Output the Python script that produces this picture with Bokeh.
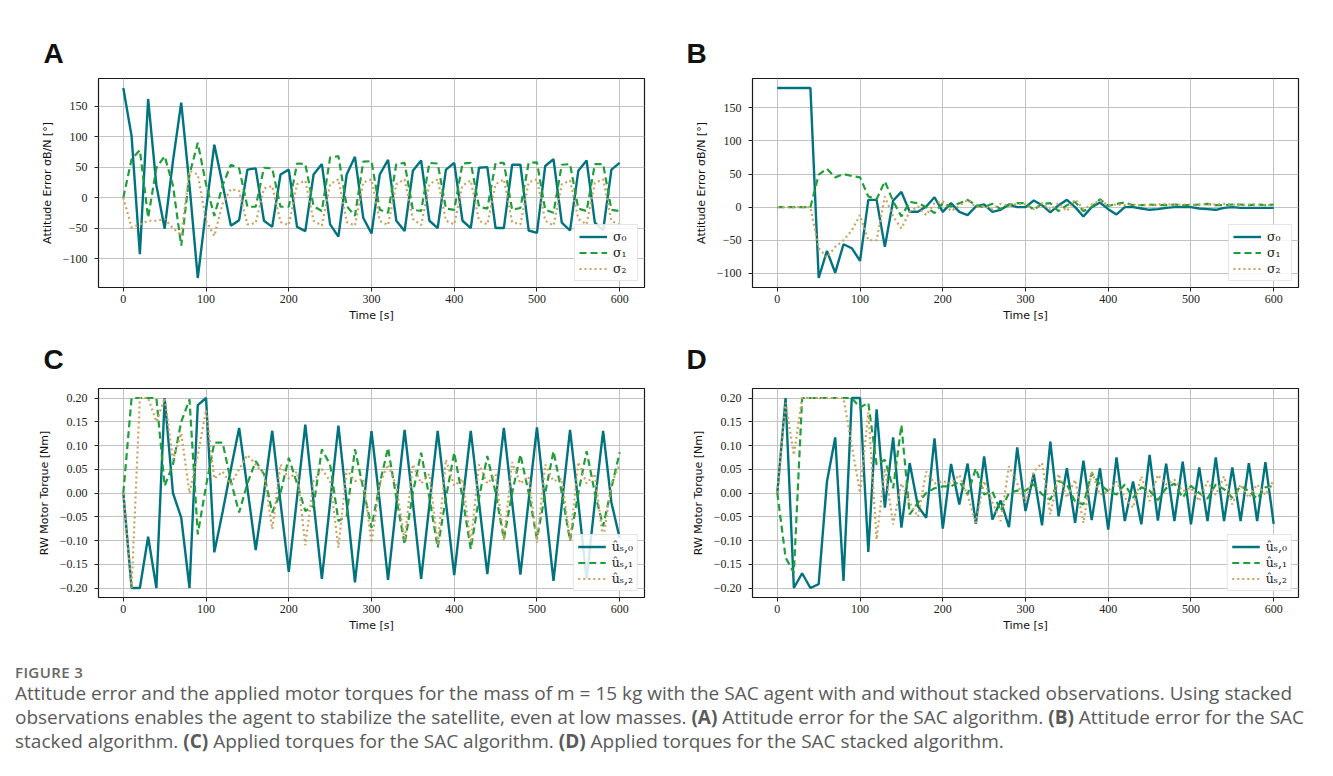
from bokeh.plotting import figure
from bokeh.models import Range1d, FixedTicker, CustomJSTickFormatter, ColumnDataSource, Div
from bokeh.layouts import column, row
from bokeh.embed import file_html
from bokeh.resources import INLINE

# ---------------- data ----------------
time_s = list(range(0, 601, 10))
x_ticks = [0, 100, 200, 300, 400, 500, 600]
att_ticks = [-100, -50, 0, 50, 100, 150]
torque_ticks = [-0.2, -0.15, -0.1, -0.05, 0.0, 0.05, 0.1, 0.15, 0.2]

att_labels = ["σ₀", "σ₁", "σ₂"]
torque_labels = ["ûₛ,₀", "ûₛ,₁", "ûₛ,₂"]

# (A) attitude error, SAC
sac_sigma0 = [180, 101, -93, 162, 20, -51, 60, 156, 20, -132,
              -20, 87, 22, -46, -37, 46, 48, -38, -48, 38,
              46, -48, -55, 38, 55, -44, -64, 38, 67, -33,
              -59, 38, 62, -38, -55, 44, 61, -38, -50, 46,
              57, -38, -50, 49, 50, -50, -50, 54, 54, -54,
              -58, 52, 63, -41, -54, 44, 61, -41, -54, 46,
              57]
sac_sigma1 = [0, 63, 78, -33, 49, 68, 20, -79, 38, 90,
              22, -30, 20, 54, 48, -15, -15, 49, 48, -15,
              -15, 56, 55, -14, -22, 66, 68, -14, -30, 59,
              60, -20, -25, 55, 57, -20, -22, 57, 56, -18,
              -20, 56, 57, -15, -18, 57, 57, -20, -17, 57,
              58, -20, -25, 54, 55, -18, -22, 55, 55, -20,
              -22]
sac_sigma2 = [0, -49, -44, -38, -38, -35, -50, -62, 44, 38,
              -38, -63, -10, 14, 11, -44, -42, 15, 19, -40,
              -45, 22, 28, -38, -46, 22, 30, -40, -46, 25,
              30, -38, -45, 22, 30, -35, -45, 22, 30, -38,
              -44, 20, 28, -38, -44, 22, 30, -40, -44, 25,
              30, -38, -46, 22, 28, -35, -44, 24, 30, -38,
              -45]

# (B) attitude error, SAC stacked
stk_sigma0 = [180, 180, 180, 180, 180, -107, -66, -99, -56, -62,
              -81, 11, 11, -60, 10, 23, -7, -7, 1, 15,
              -7, 6, -7, -12, 1, 4, -7, -4, 4, 0,
              0, 10, 3, -8, 3, 11, 0, -14, 0, 7,
              -3, -11, 0, 0, -2, -4, -3, -1, 0, 0,
              0, -2, -3, -4, -1, 0, -1, -1, -1, -1,
              -1]
stk_sigma1 = [0, 0, 0, 0, 0, 49, 58, 45, 50, 47,
              45, 16, 12, 39, 9, -14, 8, 6, 0, -9,
              6, 1, 6, 11, 3, 0, 5, -3, 3, 6,
              6, -4, 5, 6, -6, 3, 8, -6, 0, 12,
              2, 5, 7, 3, 3, 4, 3, 3, 4, 3,
              3, 4, 5, 3, 3, 4, 4, 3, 4, 3,
              4]
stk_sigma2 = [0, 0, 0, 0, 0, -62, -76, -60, -50, -35,
              -12, -50, -50, 16, -14, -32, -7, 1, -12, 6,
              9, -6, 2, 11, 0, 2, -3, 5, 2, 5,
              4, -3, 6, -4, 6, -6, 12, -3, 4, 10,
              3, 4, 3, 4, 3, 3, 4, 5, 3, 4,
              4, 3, 5, 4, 5, 4, 3, 4, 4, 3,
              4]

# (C) applied torques, SAC
sac_u0 = [0, -0.2, -0.2, -0.092, -0.2, 0.2, 0.0, -0.052, -0.2, 0.185,
          0.2, -0.125, -0.04, 0.05, 0.137, 0.01, -0.12, 0.0, 0.131, -0.02,
          -0.166, -0.01, 0.144, -0.02, -0.181, -0.02, 0.142, -0.02, -0.188, -0.03,
          0.13, -0.02, -0.183, -0.025, 0.133, -0.02, -0.181, -0.025, 0.131, -0.02,
          -0.173, -0.02, 0.131, -0.02, -0.171, -0.015, 0.137, -0.02, -0.172, -0.015,
          0.138, -0.025, -0.185, -0.025, 0.133, -0.02, -0.181, -0.02, 0.131, -0.02,
          -0.095]
sac_u1 = [0, 0.2, 0.2, 0.2, 0.2, 0.015, 0.06, 0.15, 0.197, -0.087,
          0.015, 0.106, 0.106, 0.025, -0.041, 0.02, 0.067, 0.04, -0.041, 0.0,
          0.074, 0.02, -0.038, -0.027, 0.092, 0.06, -0.059, -0.048, 0.092, 0.01,
          -0.073, 0.02, 0.095, -0.01, -0.108, 0.0, 0.085, -0.01, -0.115, -0.01,
          0.085, -0.01, -0.118, -0.01, 0.078, 0.0, -0.097, 0.0, 0.081, 0.0,
          -0.097, 0.0, 0.088, 0.0, -0.1, 0.0, 0.088, 0.0, -0.07, 0.01,
          0.086]
sac_u2 = [0, -0.2, 0.2, 0.2, 0.15, 0.2, 0.07, 0.126, 0.0, 0.08,
          0.175, 0.03, 0.045, 0.018, 0.05, 0.08, 0.06, 0.04, -0.076, 0.06,
          0.03, 0.045, -0.11, 0.025, 0.05, 0.025, -0.115, 0.05, 0.025, 0.03,
          -0.105, 0.02, 0.06, 0.015, -0.1, 0.06, 0.02, 0.04, -0.11, 0.07,
          0.015, 0.03, -0.105, 0.06, 0.02, 0.04, -0.1, 0.065, 0.02, 0.035,
          -0.105, 0.06, 0.025, 0.03, -0.1, 0.065, 0.02, 0.04, -0.1, 0.02,
          0.06]

# (D) applied torques, SAC stacked
stk_u0 = [0, 0.2, -0.2, -0.169, -0.2, -0.192, 0.024, 0.117, -0.185, 0.2,
          0.2, -0.124, 0.176, -0.031, 0.117, -0.073, 0.063, -0.028, -0.052, 0.115,
          -0.075, 0.061, -0.024, 0.062, -0.065, 0.077, -0.056, -0.016, -0.072, 0.096,
          -0.038, 0.04, -0.068, 0.108, -0.049, 0.052, -0.063, 0.068, -0.057, 0.052,
          -0.077, 0.075, -0.059, 0.024, -0.066, 0.08, -0.058, 0.062, -0.059, 0.066,
          -0.066, 0.054, -0.059, 0.075, -0.059, 0.054, -0.059, 0.063, -0.059, 0.065,
          -0.065]
stk_u1 = [0, -0.136, -0.168, 0.2, 0.2, 0.2, 0.2, 0.2, 0.2, 0.2,
          0.18, 0.19, 0.06, 0.07, 0.01, 0.143, -0.045, -0.02, 0.0, 0.01,
          0.014, 0.014, 0.024, -0.003, 0.052, -0.003, 0.003, -0.038, 0.0, 0.005,
          0.005, 0.018, -0.003, -0.014, 0.025, 0.018, -0.018, -0.024, 0.042, 0.018,
          0.004, -0.003, 0.018, -0.01, 0.012, 0.005, -0.015, 0.01, 0.02, -0.01,
          0.015, 0.0, -0.012, 0.018, 0.008, -0.01, 0.015, 0.004, -0.012, 0.012,
          0.015]
stk_u2 = [0, 0.19, 0.08, 0.2, 0.2, 0.2, 0.2, 0.2, 0.2, 0.1,
          0.0, 0.17, -0.098, 0.052, -0.066, 0.02, -0.02, -0.05, 0.045, 0.02,
          0.025, 0.02, 0.038, -0.005, -0.063, 0.025, -0.02, -0.059, 0.056, 0.02,
          -0.02, 0.045, 0.063, -0.045, 0.04, -0.01, 0.028, -0.063, 0.046, -0.004,
          0.004, 0.024, -0.01, -0.031, 0.035, -0.017, 0.038, 0.018, 0.028, 0.004,
          0.011, -0.017, 0.025, -0.004, 0.035, -0.024, 0.018, -0.01, 0.018, -0.004,
          0.028]

caption_head = "FIGURE 3"
caption_lines = [
    "Attitude error and the applied motor torques for the mass of m = 15 kg with the SAC agent with and without stacked observations. Using stacked",
    "observations enables the agent to stabilize the satellite, even at low masses. <b>(A)</b> Attitude error for the SAC algorithm. <b>(B)</b> Attitude error for the SAC",
    "stacked algorithm. <b>(C)</b> Applied torques for the SAC algorithm. <b>(D)</b> Applied torques for the SAC stacked algorithm.",
]

# ---------------- styling ----------------
TEAL = "#00737f"
GREEN = "#1f9e3a"
TAN = "#c9a35f"
TICK_FONT = "Liberation Serif"
LABEL_FONT = "DejaVu Sans"


def make_panel(letter, series, labels, ylabel, yticks, digits,
               width, height, left, right, top, bottom, letter_offset, letter_standoff):
    allv = [v for s in series for v in s]
    lo, hi = min(allv), max(allv)
    pad = 0.05 * (hi - lo)
    p = figure(width=width, height=height, output_backend="svg", toolbar_location=None,
               x_range=Range1d(-30, 630), y_range=Range1d(lo - pad, hi + pad),
               min_border_left=left, min_border_right=right,
               min_border_top=top, min_border_bottom=bottom,
               title=letter)
    p.title.text_font = "Liberation Sans"
    p.title.text_font_size = "28px"
    p.title.text_font_style = "bold"
    p.title.text_color = "#111111"
    p.title.align = "left"
    p.title.offset = letter_offset
    p.title.standoff = letter_standoff

    p.background_fill_color = "white"
    p.border_fill_color = "white"
    p.outline_line_color = "#1a1a1a"
    p.outline_line_width = 1.2

    src = ColumnDataSource(dict(t=time_s, s0=series[0], s1=series[1], s2=series[2]))
    p.line("t", "s0", source=src, line_color=TEAL, line_width=2.4, legend_label=labels[0])
    p.line("t", "s1", source=src, line_color=GREEN, line_width=2.2, line_dash="7 4",
           legend_label=labels[1])
    p.line("t", "s2", source=src, line_color=TAN, line_width=2.2, line_dash="2 3",
           legend_label=labels[2])

    p.xaxis.ticker = FixedTicker(ticks=x_ticks)
    p.yaxis.ticker = FixedTicker(ticks=yticks)
    fmt = "return (tick < 0 ? '\u2212' : '') + Math.abs(tick).toFixed(%d);" % digits
    p.yaxis.formatter = CustomJSTickFormatter(code=fmt)
    p.xaxis.formatter = CustomJSTickFormatter(code="return tick.toFixed(0);")

    for ax in (p.xaxis, p.yaxis):
        ax.axis_line_color = None
        ax.major_tick_line_color = "#222222"
        ax.major_tick_out = 4
        ax.major_tick_in = 0
        ax.minor_tick_line_color = None
        ax.major_label_text_font = TICK_FONT
        ax.major_label_text_font_size = "12px"
        ax.major_label_text_color = "#222222"
        ax.axis_label_text_font = LABEL_FONT
        ax.axis_label_text_font_size = "11px"
        ax.axis_label_text_font_style = "normal"
        ax.axis_label_text_color = "#111111"
    p.xaxis.major_label_standoff = 3
    p.yaxis.major_label_standoff = 7
    p.xaxis.axis_label = "Time [s]"
    p.xaxis.axis_label_standoff = 3
    p.yaxis.axis_label = ylabel
    p.yaxis.axis_label_standoff = 6

    p.grid.grid_line_color = "#c2c2c2"
    p.grid.grid_line_width = 1

    lg = p.legend[0]
    lg.location = "bottom_right"
    lg.margin = 6
    lg.padding = 4
    lg.spacing = 1
    lg.label_height = 15
    lg.glyph_height = 15
    lg.glyph_width = 28
    lg.label_standoff = 6
    lg.label_text_font = "DejaVu Serif"
    lg.label_text_font_size = "12.5px"
    lg.label_text_color = "#222222"
    lg.border_line_color = "#cccccc"
    lg.border_line_width = 1
    lg.background_fill_alpha = 0.85
    return p


pA = make_panel("A", [sac_sigma0, sac_sigma1, sac_sigma2], att_labels,
                "Attitude Error σB/N [°]", att_ticks, 0,
                662, 325, 98, 18, 78, 38, -55, 19)
pB = make_panel("B", [stk_sigma0, stk_sigma1, stk_sigma2], att_labels,
                "Attitude Error σB/N [°]", att_ticks, 0,
                663, 325, 90, 27, 78, 38, -66, 19)
pC = make_panel("C", [sac_u0, sac_u1, sac_u2], torque_labels,
                "RW Motor Torque [Nm]", torque_ticks, 2,
                662, 310, 98, 18, 63, 38, -55, 28)
pD = make_panel("D", [stk_u0, stk_u1, stk_u2], torque_labels,
                "RW Motor Torque [Nm]", torque_ticks, 2,
                663, 310, 90, 27, 63, 38, -66, 28)

body = "<br>".join(caption_lines)
cap_html = (
    "<div style=\"padding:23px 0 0 10px; font-family:'Open Sans',sans-serif; color:#5a5a5a;\">"
    "<div style=\"font-size:15px; font-weight:600; letter-spacing:0.4px; line-height:18px; color:#666666;\">%s</div>"
    "<div style=\"font-size:19px; line-height:24px; margin-top:0px; white-space:nowrap;\">%s</div>"
    "</div>" % (caption_head, body)
)
cap = Div(text=cap_html, width=1325, height=130)

layout = column(row(pA, pB), row(pC, pD), cap)
open("out.html", "w").write(file_html(layout, INLINE))
